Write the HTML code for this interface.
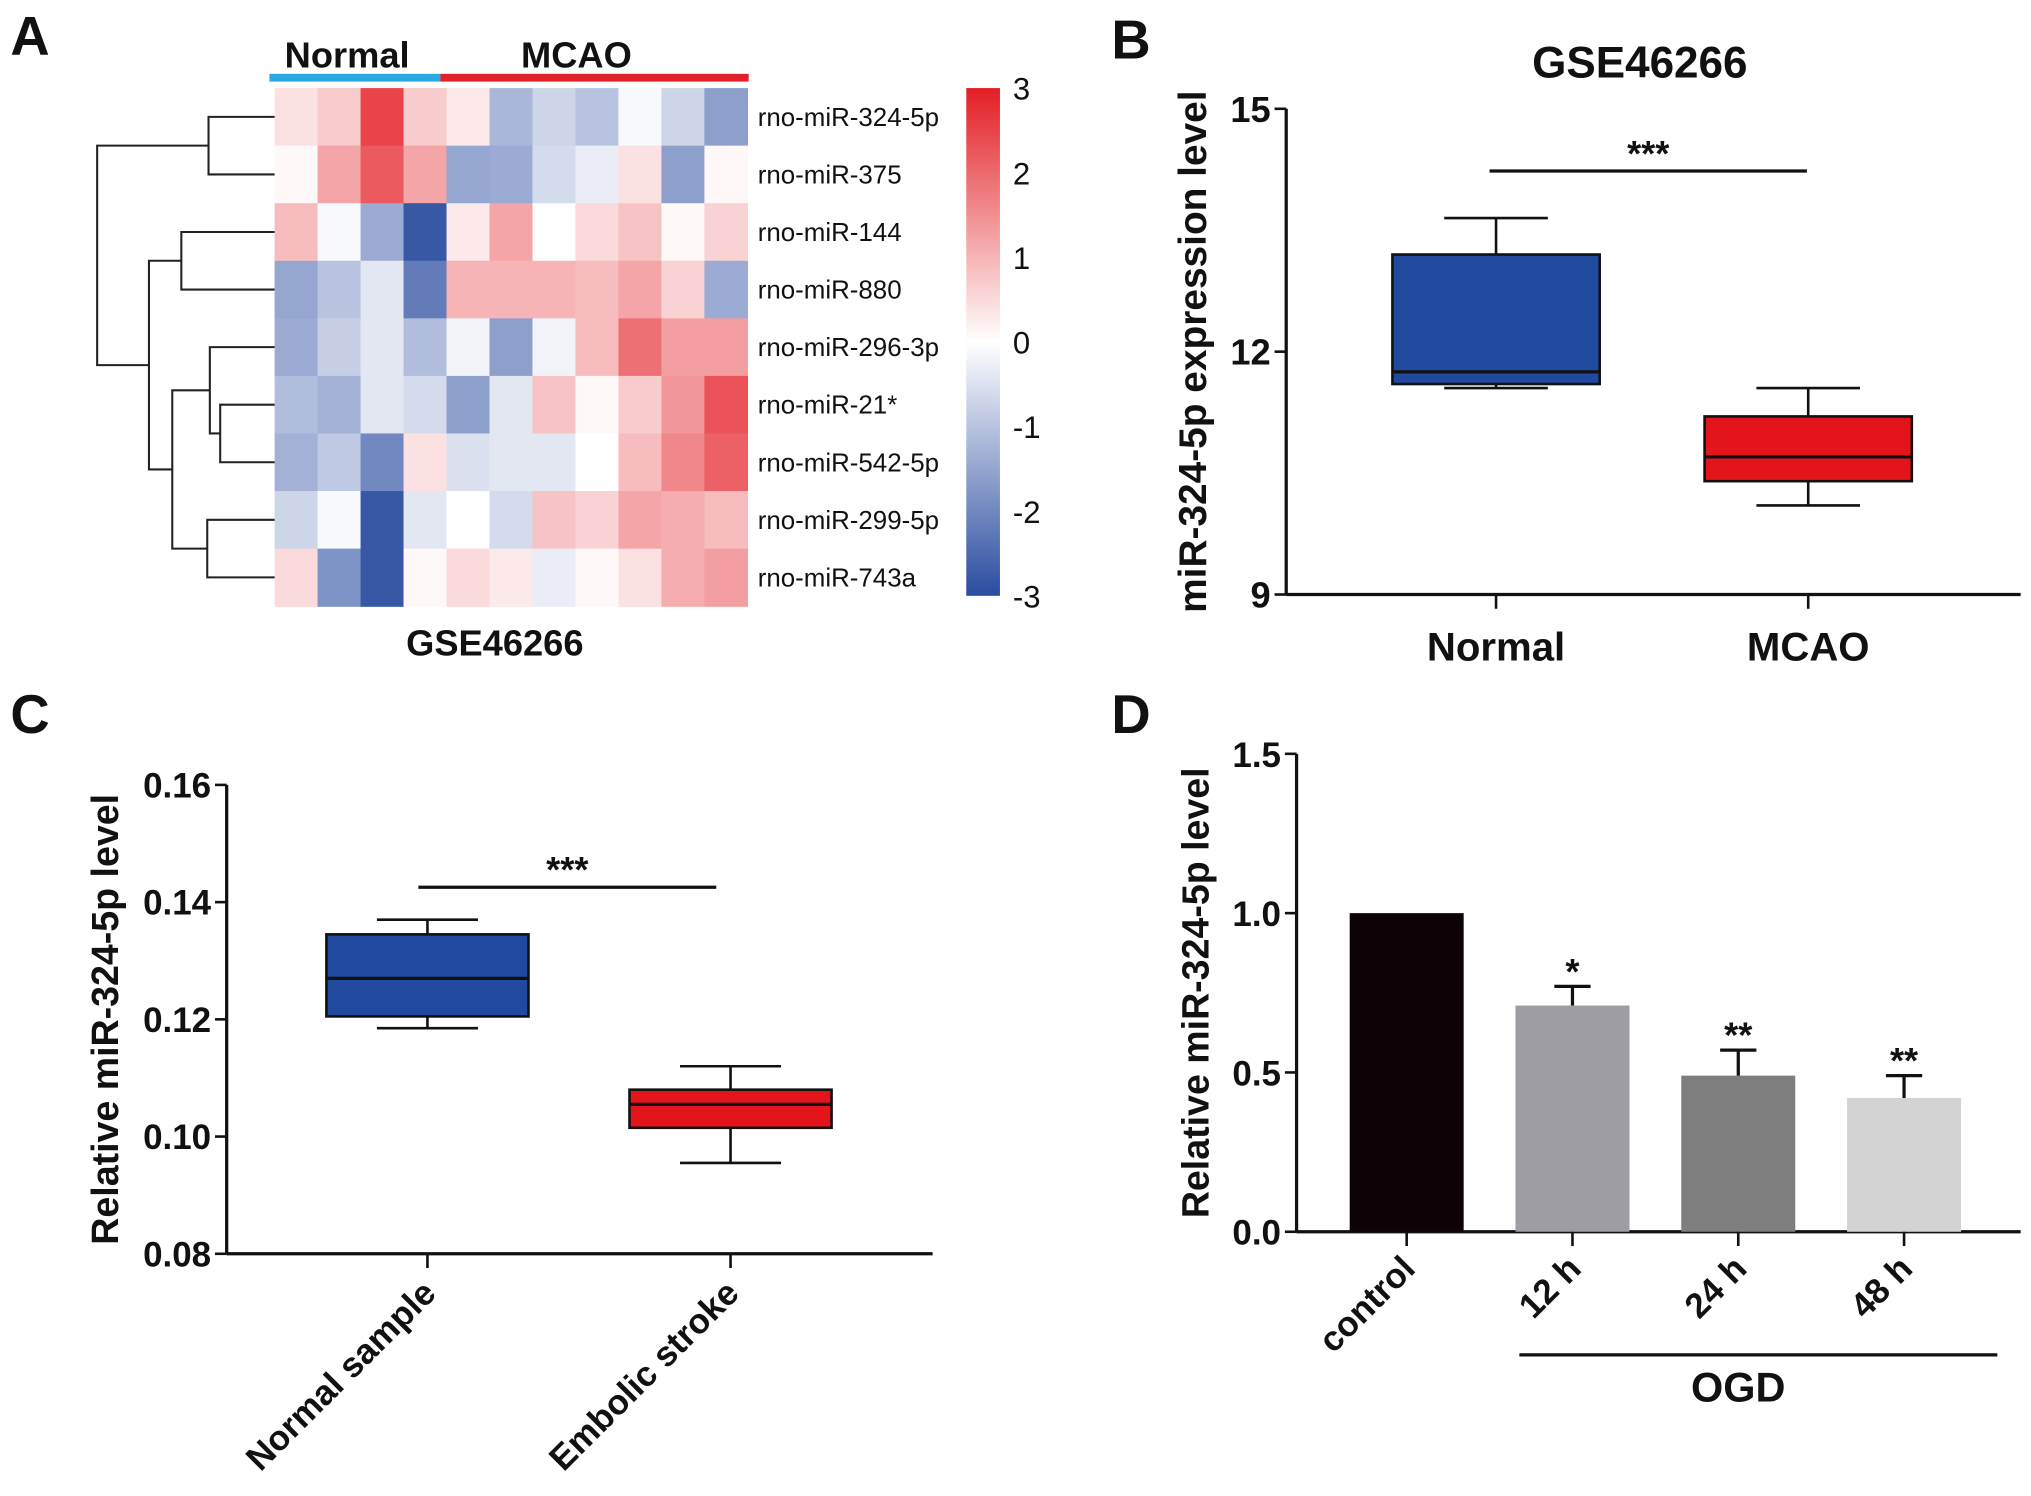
<!DOCTYPE html>
<html><head><meta charset="utf-8"><style>
html,body{margin:0;padding:0;background:#fff;}
svg{display:block;font-family:"Liberation Sans",Arial,sans-serif;}
</style></head><body>
<svg id="fig" width="2031" height="1496" viewBox="0 0 1568 1155" preserveAspectRatio="none" xmlns="http://www.w3.org/2000/svg"></svg>
<script>
// ---------- Panel A data ----------
const hmRows = ["rno-miR-324-5p","rno-miR-375","rno-miR-144","rno-miR-880","rno-miR-296-3p","rno-miR-21*","rno-miR-542-5p","rno-miR-299-5p","rno-miR-743a"];
const hmValues = [
 [0.4,0.7,2.5,0.7,0.3,-1.2,-0.7,-1.0,-0.1,-0.7,-1.6],
 [0.1,1.2,2.2,1.2,-1.5,-1.4,-0.6,-0.3,0.4,-1.6,0.1],
 [0.9,-0.1,-1.4,-2.8,0.3,1.2,0.0,0.5,0.8,0.1,0.6],
 [-1.5,-1.0,-0.4,-2.2,1.0,1.0,1.0,0.9,1.2,0.6,-1.4],
 [-1.4,-0.8,-0.4,-1.1,-0.2,-1.6,-0.2,0.9,1.9,1.3,1.3],
 [-1.1,-1.3,-0.4,-0.6,-1.6,-0.4,0.8,0.1,0.7,1.4,2.3],
 [-1.3,-0.9,-2.0,0.4,-0.5,-0.4,-0.4,0.0,0.9,1.6,2.1],
 [-0.7,-0.1,-2.8,-0.4,0.0,-0.6,0.8,0.6,1.2,1.1,0.9],
 [0.5,-1.8,-2.8,0.1,0.5,0.3,-0.3,0.1,0.4,1.1,1.3]
];
const cbTicks = [3,2,1,0,-1,-2,-3];
// ---------- Panel B data ----------
const bCats = ["Normal","MCAO"];
const bBoxes = [ {min:11.55,q1:11.6,med:11.75,q3:13.2,max:13.65}, {min:10.1,q1:10.4,med:10.7,q3:11.2,max:11.55} ];
const bTicks = [9,12,15];
// ---------- Panel C data ----------
const cCats = ["Normal sample","Embolic stroke"];
const cBoxes = [ {min:0.1185,q1:0.1205,med:0.127,q3:0.1345,max:0.137}, {min:0.0955,q1:0.1015,med:0.1055,q3:0.108,max:0.112} ];
const cTicks = [0.08,0.10,0.12,0.14,0.16];
// ---------- Panel D data ----------
const dCats = ["control","12 h","24 h","48 h"];
const dValues = [1.0,0.71,0.49,0.42];
const dErr = [0,0.06,0.08,0.07];
const dStars = ["","*","**","**"];
const dTicks = [0.0,0.5,1.0,1.5];

const svg = document.getElementById('fig');
const NS = "http://www.w3.org/2000/svg";
function mk(tag, attrs, parent, text){
  const e = document.createElementNS(NS, tag);
  for (const k in attrs) e.setAttribute(k, attrs[k]);
  if (text !== undefined) e.textContent = text;
  (parent||svg).appendChild(e);
  return e;
}
function grp(name){ const g = mk('g',{});   return g; }
function txt(parent, x, y, s, size, name, extra){
  const a = Object.assign({x:x,y:y,'font-size':size,'font-weight':'bold',fill:'#111'}, extra||{});
  const t = mk('text', a, parent, s);
  
  
  return t;
}
function line(p,x1,y1,x2,y2,w,name){ const l = mk('line',{x1:x1,y1:y1,x2:x2,y2:y2,stroke:'#111','stroke-width':w||2},p); if(name){} return l; }

[["A",8,42],["B",858,45],["C",8,566],["D",858,566]].forEach(([l,x,y])=>{
  txt(svg,x,y,l,42,'panel-label-'+l.toLowerCase(),{'font-weight':'bold'});
});

// ---------- Panel A ----------
(function(){
  const g = grp('heatmap-panel');
  const x0=212,x1=577,y0=68,y1=468;
  const nc=hmValues[0].length, nr=hmRows.length;
  const cw=(x1-x0)/nc, rh=(y1-y0)/nr;
  const red=[227,30,36], blue=[42,76,160];
  function col(v){
    const t=Math.max(-1,Math.min(1,v/3)); const c=t>=0?red:blue; const a=Math.abs(t);
    return 'rgb('+[0,1,2].map(i=>Math.round(255+(c[i]-255)*a)).join(',')+')';
  }
  hmValues.forEach((row,r)=>row.forEach((v,c)=>{
    const rc = mk('rect',{x:x0+c*cw,y:y0+r*rh,width:cw+0.5,height:rh+0.5,fill:col(v)},g);
    
    
  }));
  hmRows.forEach((n,r)=>txt(g,585,y0+(r+0.5)*rh+7,n,20,'row-label',{'font-weight':'normal'}));
  mk('rect',{x:208,y:57,width:132,height:6,fill:'#29a8e0'},g);
  mk('rect',{x:340,y:57,width:238,height:6,fill:'#e3202a'},g);
  txt(g,268,52,'Normal',28,'group-label-normal',{'text-anchor':'middle'});
  txt(g,445,52,'MCAO',28,'group-label-mcao',{'text-anchor':'middle'});
  txt(g,382,506,'GSE46266',28,'heatmap-title',{'text-anchor':'middle'});
  const defs = mk('defs',{},g);
  const lg = mk('linearGradient',{id:'cb',x1:0,y1:0,x2:0,y2:1},defs);
  mk('stop',{offset:'0%','stop-color':col(3)},lg);
  mk('stop',{offset:'50%','stop-color':'#fff'},lg);
  mk('stop',{offset:'100%','stop-color':col(-3)},lg);
  const cb = mk('rect',{x:746,y:68,width:26,height:392,fill:'url(#cb)'},g);
   
  cbTicks.forEach(v=>{ const y=68+(3-v)/6*392; txt(g,782,y+9,v<0?'-'+(-v):String(v),24,'colorbar-tick',{'font-weight':'normal'}); });
  const rc = r=>y0+(r+0.5)*rh;
  const d = grp('dendrogram'); g.appendChild(d);
  function join(xj, ya, yb, xa, xb){
    mk('path',{d:`M${xa},${ya}H${xj}V${yb}H${xb}`,fill:'none',stroke:'#222','stroke-width':1.6},d);
  }
  join(161,rc(0),rc(1),212,212);
  join(170,rc(5),rc(6),212,212);
  join(162,rc(4),(rc(5)+rc(6))/2,212,170);
  join(160,rc(7),rc(8),212,212);
  join(133,(rc(4)+(rc(5)+rc(6))/2)/2,(rc(7)+rc(8))/2,162,160);
  join(140,rc(2),rc(3),212,212);
  const ymid=((rc(4)+(rc(5)+rc(6))/2)/2+(rc(7)+rc(8))/2)/2;
  join(115,(rc(2)+rc(3))/2,ymid,140,133);
  join(75,(rc(0)+rc(1))/2,((rc(2)+rc(3))/2+ymid)/2,161,115);
})();

// ---------- Box plot helper ----------
function boxPanel(name, cats, boxes, ticks, fmt, colors, cfg){
  const g = grp(name);
  const Y = v => cfg.yTop + (ticks[ticks.length-1]-v)/(ticks[ticks.length-1]-ticks[0])*(cfg.yBot-cfg.yTop);
  line(g,cfg.xAxis,cfg.yTop,cfg.xAxis,cfg.yBot,2.5,'y-axis');
  line(g,cfg.xAxis,cfg.yBot,cfg.xEnd,cfg.yBot,2.5,'x-axis');
  ticks.forEach(t=>{ line(g,cfg.xAxis-9,Y(t),cfg.xAxis,Y(t),2,'y-tick');
    txt(g,cfg.xAxis-12,Y(t)+cfg.tfs*0.36,fmt(t),cfg.tfs,'y-tick-label',{'text-anchor':'end'}); });
  cats.forEach((c,i)=>{
    const cx=cfg.cx[i], b=boxes[i], hw=cfg.bw/2;
    line(g,cx,cfg.yBot,cx,cfg.yBot+11,2,'x-tick');
    const w = mk('path',{d:`M${cx},${Y(b.max)}V${Y(b.q3)}M${cx},${Y(b.q1)}V${Y(b.min)}M${cx-hw/2},${Y(b.max)}H${cx+hw/2}M${cx-hw/2},${Y(b.min)}H${cx+hw/2}`,stroke:'#111','stroke-width':2,fill:'none'},g);
     
    const r = mk('rect',{x:cx-hw,y:Y(b.q3),width:cfg.bw,height:Y(b.q1)-Y(b.q3),fill:colors[i],stroke:'#111','stroke-width':2},g);
     
    line(g,cx-hw,Y(b.med),cx+hw,Y(b.med),2.5,'median-line');
    if(cfg.rot){
      txt(g,cx+8,cfg.yBot+32,c,cfg.lfs,'x-label',{'text-anchor':'end',transform:`rotate(-45 ${cx+8} ${cfg.yBot+32})`});
    } else txt(g,cx,cfg.yBot+cfg.lfs+20,c,cfg.lfs,'x-label',{'text-anchor':'middle'});
  });
  line(g,cfg.sig[0],cfg.sig[2],cfg.sig[1],cfg.sig[2],2.5,'significance-line');
  txt(g,(cfg.sig[0]+cfg.sig[1])/2,cfg.sig[2]-4,'***',28,'significance-stars',{'text-anchor':'middle'});
  txt(g,0,0,cfg.ylabel,cfg.yfs,'y-axis-title',{'text-anchor':'middle',transform:`translate(${cfg.ylx},${(cfg.yTop+cfg.yBot)/2}) rotate(-90)`});
  return g;
}
const gB = boxPanel('panel-b-boxplot',bCats,bBoxes,bTicks,t=>String(t),['#1f4a9e','#e4141b'],
 {xAxis:993,xEnd:1560,yTop:84,yBot:459,cx:[1155,1396],bw:160,tfs:28,lfs:31,ylabel:'miR-324-5p expression level',yfs:30,ylx:931,sig:[1150,1395,132]});
txt(gB,1266,60,'GSE46266',34,'panel-b-title',{'text-anchor':'middle'});
boxPanel('panel-c-boxplot',cCats,cBoxes,cTicks,t=>t.toFixed(2),['#1f4a9e','#e4141b'],
 {xAxis:175,xEnd:720,yTop:606,yBot:968,cx:[330,564],bw:156,tfs:27,lfs:27,rot:true,ylabel:'Relative miR-324-5p level',yfs:29,ylx:91,sig:[323,553,685]});

// ---------- Panel D ----------
(function(){
  const g = grp('panel-d-barchart');
  const yTop=582,yBot=951,xAxis=1001,xEnd=1560;
  const Y = v => yBot-(v-dTicks[0])/(dTicks[dTicks.length-1]-dTicks[0])*(yBot-yTop);
  const cx=[1086,1214,1342,1470], bw=88, colors=['#0d0306','#9d9da3','#7e7e7e','#d3d3d3'];
  line(g,xAxis,yTop,xAxis,yBot,2.5,'y-axis');
  line(g,xAxis,yBot,xEnd,yBot,2.5,'x-axis');
  dTicks.forEach(t=>{ line(g,xAxis-9,Y(t),xAxis,Y(t),2,'y-tick');
    txt(g,xAxis-12,Y(t)+10,t.toFixed(1),27,'y-tick-label',{'text-anchor':'end'}); });
  dCats.forEach((c,i)=>{
    const b = mk('rect',{x:cx[i]-bw/2,y:Y(dValues[i]),width:bw,height:Y(0)-Y(dValues[i]),fill:colors[i]},g);
    
    
    if(dErr[i]>0){
      const e = mk('path',{d:`M${cx[i]},${Y(dValues[i])}V${Y(dValues[i]+dErr[i])}M${cx[i]-14},${Y(dValues[i]+dErr[i])}H${cx[i]+14}`,stroke:'#111','stroke-width':2.5,fill:'none'},g);
       
    }
    if(dStars[i]) txt(g,cx[i],Y(dValues[i]+dErr[i])-2,dStars[i],28,'significance-stars',{'text-anchor':'middle'});
    line(g,cx[i],yBot,cx[i],yBot+11,2,'x-tick');
    txt(g,cx[i]+8,yBot+30,c,27,'x-label',{'text-anchor':'end',transform:`rotate(-45 ${cx[i]+8} ${yBot+30})`});
  });
  line(g,1173,1046,1542,1046,2.5,'ogd-bracket');
  txt(g,1342,1082,'OGD',32,'ogd-label',{'text-anchor':'middle'});
  txt(g,0,0,'Relative miR-324-5p level',29,'y-axis-title',{'text-anchor':'middle',transform:`translate(933,${(yTop+yBot)/2}) rotate(-90)`});
})();
</script>
</body></html>
